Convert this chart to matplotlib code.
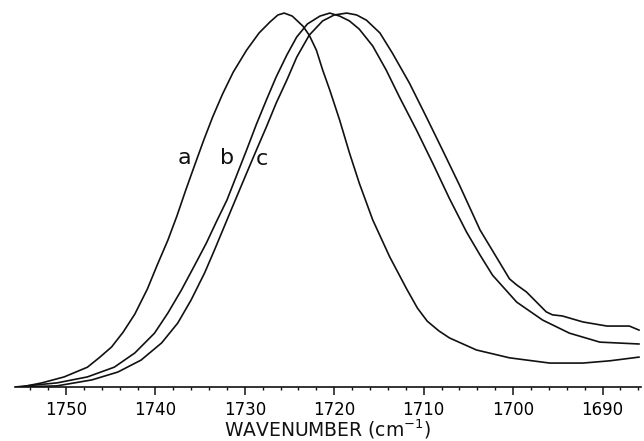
import numpy as np
import matplotlib.pyplot as plt
from matplotlib.ticker import MultipleLocator

# carbonyl stretch band, three samples (absorbance normalised to peak)
wn_a = [1755.7, 1755.0, 1752.7, 1750.2, 1747.6, 1746.3, 1744.9, 1743.6, 1742.3,
        1740.9, 1739.8, 1738.6, 1737.6, 1736.6, 1735.6, 1734.6, 1733.6, 1732.5,
        1731.3, 1729.8, 1728.4, 1727.2, 1726.3, 1725.6, 1724.7, 1723.5, 1722.8,
        1722.0, 1721.3, 1720.5, 1719.4, 1718.3, 1717.2, 1715.7, 1713.8, 1711.9,
        1710.7, 1709.6, 1708.3, 1707.1, 1704.1, 1700.4, 1695.9, 1692.2, 1689.2,
        1685.9]
abs_a = [0.0, 0.0, 0.011, 0.027, 0.053, 0.078, 0.107, 0.147, 0.195,
         0.262, 0.326, 0.393, 0.457, 0.527, 0.594, 0.660, 0.722, 0.783,
         0.842, 0.901, 0.947, 0.976, 0.995, 1.0, 0.992, 0.965, 0.941,
         0.901, 0.848, 0.794, 0.714, 0.626, 0.545, 0.447, 0.348, 0.262,
         0.211, 0.176, 0.150, 0.131, 0.099, 0.078, 0.064, 0.064, 0.070,
         0.080]

wn_b = [1755.7, 1751.0, 1747.6, 1744.6, 1742.3, 1740.1, 1738.6, 1737.1, 1735.6,
        1734.3, 1733.2, 1732.0, 1730.9, 1729.8, 1728.7, 1727.6, 1726.5, 1725.3,
        1724.2, 1723.0, 1721.6, 1720.5, 1719.4, 1718.3, 1717.2, 1715.7, 1714.2,
        1712.7, 1710.8, 1709.0, 1707.1, 1705.2, 1703.7, 1702.3, 1699.6, 1696.7,
        1693.7, 1690.3, 1685.9]
abs_b = [0.0, 0.011, 0.027, 0.053, 0.091, 0.144, 0.198, 0.259, 0.326,
         0.385, 0.441, 0.500, 0.567, 0.634, 0.703, 0.767, 0.829, 0.888,
         0.936, 0.971, 0.992, 1.0, 0.992, 0.979, 0.957, 0.912, 0.848,
         0.775, 0.687, 0.599, 0.503, 0.414, 0.353, 0.299, 0.227, 0.179,
         0.144, 0.120, 0.115]

wn_c = [1755.7, 1751.0, 1747.1, 1744.2, 1741.6, 1739.3, 1737.5, 1736.0, 1734.5,
        1733.4, 1732.6, 1731.4, 1729.8, 1728.7, 1727.6, 1726.5, 1725.3, 1724.2,
        1722.8, 1721.3, 1720.0, 1718.6, 1717.5, 1716.4, 1714.9, 1713.5, 1711.6,
        1709.7, 1707.9, 1706.0, 1703.7, 1700.4, 1699.6, 1698.5, 1696.3, 1695.6,
        1694.5, 1692.2, 1689.5, 1687.0, 1685.9]
abs_c = [0.0, 0.003, 0.019, 0.040, 0.072, 0.118, 0.171, 0.233, 0.305,
         0.366, 0.412, 0.481, 0.572, 0.634, 0.695, 0.759, 0.821, 0.882,
         0.941, 0.979, 0.995, 1.0, 0.995, 0.981, 0.947, 0.893, 0.813,
         0.722, 0.634, 0.540, 0.420, 0.289, 0.273, 0.254, 0.201, 0.193,
         0.190, 0.174, 0.163, 0.163, 0.152]

curve_labels = ['a', 'b', 'c']
label_wn = [1736.8, 1732.0, 1728.1]
label_abs = [0.612, 0.612, 0.610]

fig = plt.figure(figsize=(6.44, 4.41), dpi=100)
ax = fig.add_axes([15 / 644, 54 / 441, 626 / 644, 387 / 441])

ink = '#111111'
for wn, ab in [(wn_a, abs_a), (wn_b, abs_b), (wn_c, abs_c)]:
    ax.plot(wn, ab, color=ink, lw=1.2, solid_joinstyle='round',
            solid_capstyle='round')

for lab, x, y in zip(curve_labels, label_wn, label_abs):
    ax.text(x, y, lab, fontsize=16, ha='center', va='center', color=ink)

ax.set_xlim(1755.7, 1685.7)
ax.set_ylim(0, 1.035)

for side in ['left', 'top', 'right']:
    ax.spines[side].set_visible(False)
ax.spines['bottom'].set_linewidth(1.2)
ax.spines['bottom'].set_color(ink)
ax.set_yticks([])

ax.xaxis.set_major_locator(MultipleLocator(10))
ax.xaxis.set_minor_locator(MultipleLocator(2))
ax.tick_params(axis='x', which='major', direction='out', length=6, width=1.1,
               color=ink, labelsize=12, pad=4)
ax.tick_params(axis='x', which='minor', direction='out', length=2.5, width=1.0,
               color=ink)

ax.set_xlabel('WAVENUMBER (cm$^{-1}$)', fontsize=13.5, labelpad=-1, color=ink)

fig.savefig('out.png', dpi=100)
